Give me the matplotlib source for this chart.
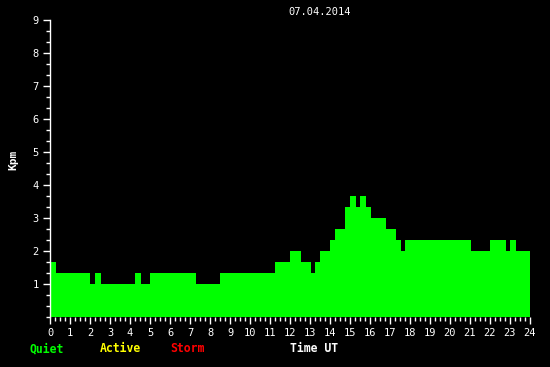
import matplotlib
matplotlib.use("Agg")
import matplotlib.pyplot as plt
import numpy as np

# hour edges of each step and the Kpm value (in thirds) for that step
edges = [0, 0.3, 2.0, 2.25, 2.55, 4.25, 4.55, 5.0, 7.3, 8.5, 11.25, 12.0, 12.55,
         13.05, 13.25, 13.5, 14.0, 14.25, 14.75, 15.0, 15.3, 15.5, 15.8, 16.05,
         16.8, 17.3, 17.55, 17.75, 21.05, 22.0, 22.8, 23.0, 23.3, 24.05]
thirds = [5, 4, 3, 4, 3, 4, 3, 4, 3, 4, 5, 6, 5, 4, 5, 6, 7, 8, 10, 11, 10, 11,
          10, 9, 8, 7, 6, 7, 6, 7, 6, 7, 6]
kpm = [t / 3 for t in thirds]

title = "07.04.2014"
hours = list(range(0, 25))
levels = list(range(1, 10))

plt.rcParams['font.family'] = ['DejaVu Sans Mono']

fig = plt.figure(figsize=(5.5, 3.67), dpi=100, facecolor='black')
ax = fig.add_axes([50/550, 50/367, 480/550, 297/367], facecolor='black')

ax.stairs(kpm, edges, fill=True, color='#00ff00', baseline=0)

ax.set_xlim(0, 24)
ax.set_ylim(0, 9)
ax.set_xticks(hours)
ax.set_xticklabels([str(h) for h in hours])
ax.set_xticks(np.arange(0, 24.01, 0.25), minor=True)
ax.set_yticks(levels)
ax.set_yticklabels([str(l) for l in levels])
ax.set_yticks(np.arange(0, 9.01, 1/3), minor=True)

for s in ['top', 'right', 'bottom']:
    ax.spines[s].set_visible(False)
ax.spines['left'].set_color('white')
ax.spines['left'].set_linewidth(1)

ax.tick_params(axis='both', which='major', colors='white', labelsize=7.5,
               length=5, width=1, direction='out', pad=3)
ax.tick_params(axis='both', which='minor', colors='white', length=3, width=1,
               direction='out')

fig.text(320/550, 1 - 12/367, title, color='white', fontsize=7.5,
         ha='center', va='center')
fig.text(13/550, 1 - 160/367, "Kpm", color='white', fontsize=8,
         fontweight='bold', rotation=90, ha='center', va='center')

fig.text(30/550, 1 - 349/367, "Quiet", color='#00ff00', fontsize=8.3,
         fontweight='bold', ha='left', va='center')
fig.text(100/550, 1 - 349/367, "Active", color='#ffff00', fontsize=8.3,
         fontweight='bold', ha='left', va='center')
fig.text(170/550, 1 - 349/367, "Storm", color='#ff0000', fontsize=8.3,
         fontweight='bold', ha='left', va='center')
fig.text(290/550, 1 - 349/367, "Time UT", color='white', fontsize=8.3,
         fontweight='bold', ha='left', va='center')

fig.savefig("out.png", dpi=100, facecolor='black')
